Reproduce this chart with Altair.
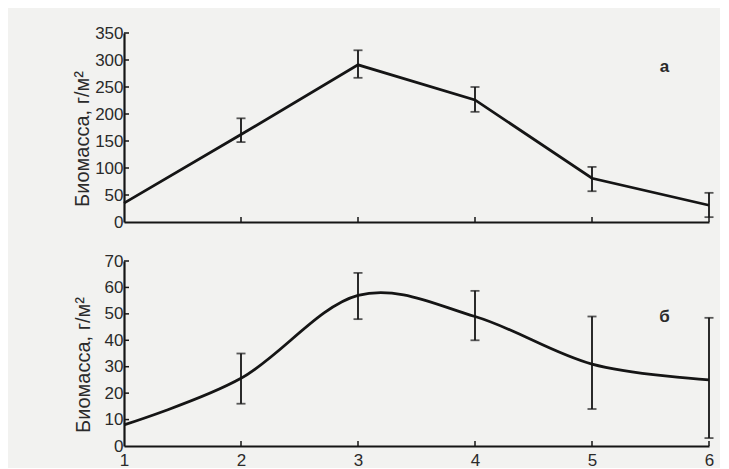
import altair as alt
import pandas as pd

# ---- data ----
x_vals = [1, 2, 3, 4, 5, 6]
a_mean = [35, 162, 291, 226, 81, 31]
err_x = [2, 3, 4, 5, 6]
a_lo = [148, 267, 204, 57, 9]
a_hi = [192, 318, 250, 102, 54]

b_mean = [8, 25.6, 57, 49, 31, 25]
b_lo = [16, 48, 40, 14, 3]
b_hi = [35, 65.5, 58.7, 49, 48.5]

a_ticks = [0, 50, 100, 150, 200, 250, 300, 350]
b_ticks = [0, 10, 20, 30, 40, 50, 60, 70]
x_ticks = [2, 3, 4, 5, 6]
y_title = "Биомасса, г/м²"

W = 585
HA = 189
HB = 185
FONT = "Liberation Sans"
INK = "#151515"
TXT = "#2a2a2a"


def panel(mean, lo, hi, ymax, yticks, interp, letter, lx, ly, show_x_labels, h, tpad):
    line_df = pd.DataFrame({"x": x_vals, "y": mean})
    err_df = pd.DataFrame({"x": err_x, "lo": lo, "hi": hi})
    ytick_df = pd.DataFrame({"y": yticks[1:]})
    xtick_df = pd.DataFrame({"x": x_ticks})
    lab_df = pd.DataFrame({"x": [lx], "y": [ly], "t": [letter]})

    xs = alt.Scale(domain=[1, 6], nice=False, zero=False)
    ys = alt.Scale(domain=[0, ymax], nice=False)

    xaxis = alt.Axis(values=x_vals, format="d", labels=show_x_labels, ticks=False,
                     tickSize=0, grid=False, title=None, domainColor=INK,
                     domainWidth=2.2, labelFont=FONT, labelFontSize=17,
                     labelColor=TXT, labelPadding=6, labelFlush=False)
    yaxis = alt.Axis(values=yticks, ticks=False, tickSize=0, grid=False,
                     title=y_title, titleFont=FONT, titleFontSize=20,
                     titleFontWeight="normal", titleColor=TXT,
                     titlePadding=tpad, titleY=h / 2 + 11,
                     domainColor=INK, domainWidth=2.2,
                     labelFont=FONT, labelFontSize=17, labelColor=TXT,
                     labelPadding=1, labelFlush=False)
    X = lambda f: alt.X(f, scale=xs, axis=xaxis, title=None)
    Y = lambda f: alt.Y(f, scale=ys, axis=yaxis, title=y_title)

    line = alt.Chart(line_df).mark_line(color=INK, strokeWidth=2.8,
                                        interpolate=interp).encode(
        x=X("x:Q"), y=Y("y:Q"),
    )
    err = alt.Chart(err_df).mark_errorbar(
        ticks={"size": 9, "thickness": 1.8, "color": INK},
        thickness=1.8, color=INK).encode(
        x=X("x:Q"), y=Y("lo:Q"), y2="hi:Q",
    )
    yt = alt.Chart(ytick_df).mark_rule(color=INK, strokeWidth=1.5).encode(
        x=alt.value(0), x2=alt.value(5), y=Y("y:Q"),
    )
    xt = alt.Chart(xtick_df).mark_rule(color=INK, strokeWidth=1.5).encode(
        x=X("x:Q"), y=alt.value(h), y2=alt.value(h - 5),
    )
    lab = alt.Chart(lab_df).mark_text(font=FONT, fontSize=17, color=TXT,
                                      fontWeight="bold").encode(
        x=X("x:Q"), y=Y("y:Q"), text="t:N",
    )
    return alt.layer(line, err, yt, xt, lab).properties(width=W, height=h)


top = panel(a_mean, a_lo, a_hi, 350, a_ticks, "linear", "а", 5.62, 287, False, HA, 2)
bottom = panel(b_mean, b_lo, b_hi, 70, b_ticks, "cardinal", "б", 5.62, 49, True, HB, 11)

chart = alt.vconcat(top, bottom, spacing=22).properties(
    background="#f2f2f0",
    padding={"left": 64, "top": 16, "right": 5, "bottom": 0},
).configure_view(stroke=None)

chart.save("out.html", embed_options={"renderer": "svg", "actions": False})
